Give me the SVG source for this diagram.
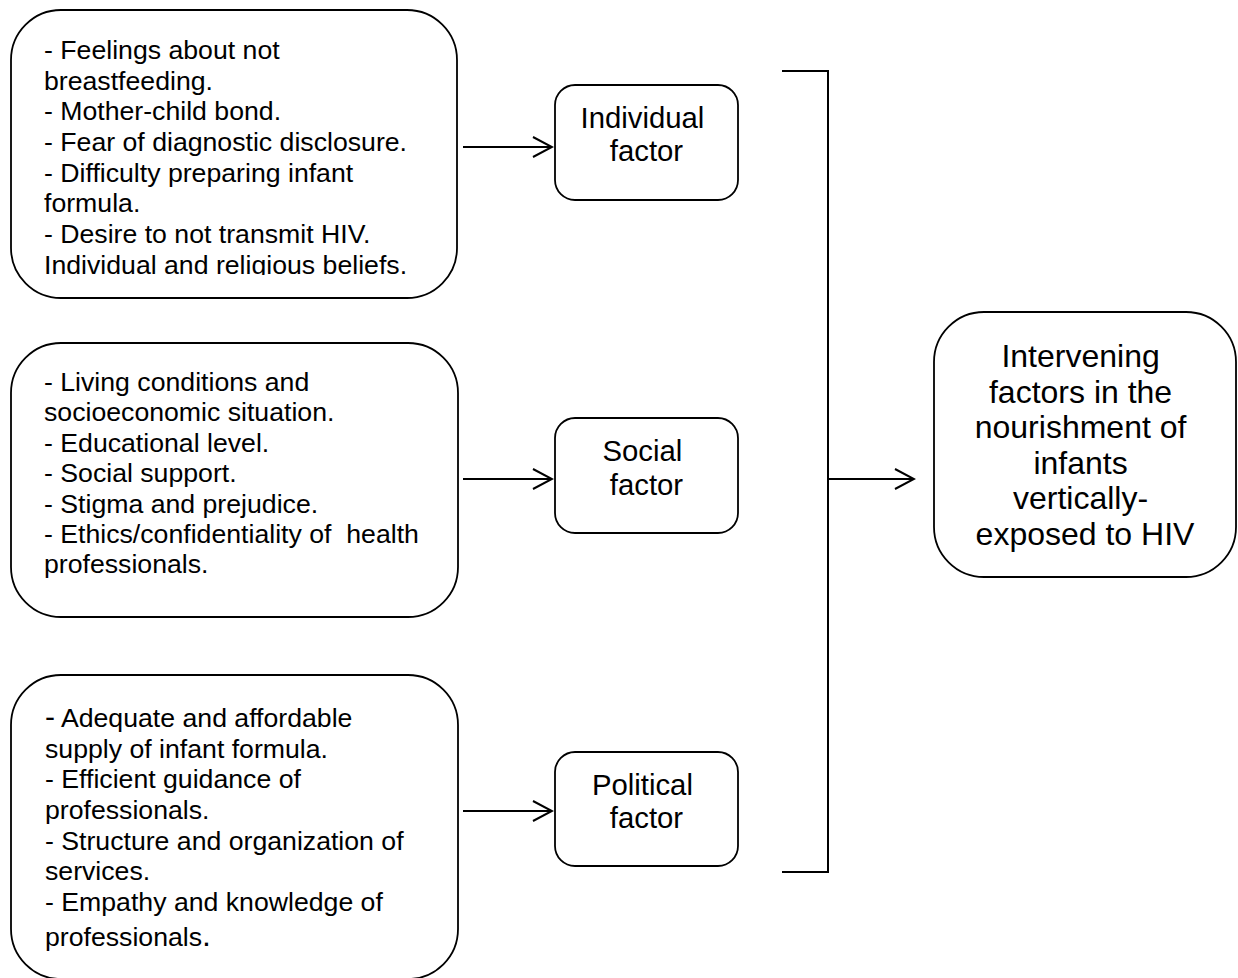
<svg xmlns="http://www.w3.org/2000/svg" width="1238" height="978" viewBox="0 0 1238 978">
  <style>
    .box { fill: #ffffff; stroke: #000000; stroke-width: 1.8; }
    .line { fill: none; stroke: #000000; stroke-width: 2; }
    .list { font-family: "Liberation Sans", Arial, sans-serif; font-size: 26.67px; fill: #000000; }
    .factor { font-family: "Liberation Sans", Arial, sans-serif; font-size: 29.3px; fill: #000000; text-anchor: middle; }
    .main { font-family: "Liberation Sans", Arial, sans-serif; font-size: 32px; fill: #000000; text-anchor: middle; }
  </style>
  <defs>
    <marker id="arrow" markerUnits="userSpaceOnUse" markerWidth="24" markerHeight="26" viewBox="-22 -13 24 26" refX="0" refY="0" orient="auto">
      <path d="M-19,-10 L0,0 L-19,10" fill="none" stroke="#000000" stroke-width="2"/>
    </marker>
    <clipPath id="clip1">
      <rect x="0" y="0" width="470" height="275"/>
    </clipPath>
  </defs>

  <rect width="1238" height="978" fill="#ffffff"/>

  <g id="connectors">
    <line class="line" x1="463" y1="147" x2="552" y2="147" marker-end="url(#arrow)"/>
    <line class="line" x1="463" y1="479" x2="552" y2="479" marker-end="url(#arrow)"/>
    <line class="line" x1="463" y1="811" x2="552" y2="811" marker-end="url(#arrow)"/>
    <polyline class="line" points="782,71 828,71 828,872 782,872"/>
    <line class="line" x1="828" y1="479" x2="914" y2="479" marker-end="url(#arrow)"/>
  </g>

  <g id="individual-details">
    <rect class="box" x="11" y="10" width="446" height="288" rx="50" ry="50"/>
    <g clip-path="url(#clip1)">
      <text class="list">
        <tspan x="44" y="59">- Feelings about not</tspan>
        <tspan x="44" y="89.7">breastfeeding.</tspan>
        <tspan x="44" y="120.3">- Mother-child bond.</tspan>
        <tspan x="44" y="151">- Fear of diagnostic disclosure.</tspan>
        <tspan x="44" y="181.7">- Difficulty preparing infant</tspan>
        <tspan x="44" y="212.3">formula.</tspan>
        <tspan x="44" y="243">- Desire to not transmit HIV.</tspan>
        <tspan x="44" y="273.7">Individual and religious beliefs.</tspan>
      </text>
    </g>
  </g>

  <g id="social-details">
    <rect class="box" x="11" y="343" width="447" height="274" rx="50" ry="50"/>
    <text class="list">
      <tspan x="44" y="391">- Living conditions and</tspan>
      <tspan x="44" y="421.4">socioeconomic situation.</tspan>
      <tspan x="44" y="451.8">- Educational level.</tspan>
      <tspan x="44" y="482.2">- Social support.</tspan>
      <tspan x="44" y="512.6">- Stigma and prejudice.</tspan>
      <tspan x="44" y="543">- Ethics/confidentiality of&#160; health</tspan>
      <tspan x="44" y="573.4">professionals.</tspan>
    </text>
  </g>

  <g id="political-details">
    <rect class="box" x="11" y="675" width="447" height="304" rx="50" ry="50"/>
    <text class="list">
      <tspan x="45" y="727"><tspan font-size="30px">-</tspan> Adequate and affordable</tspan>
      <tspan x="45" y="757.7">supply of infant formula.</tspan>
      <tspan x="45" y="788.3">- Efficient guidance of</tspan>
      <tspan x="45" y="819">professionals.</tspan>
      <tspan x="45" y="849.7">- Structure and organization of</tspan>
      <tspan x="45" y="880.3">services.</tspan>
      <tspan x="45" y="911">- Empathy and knowledge of</tspan>
      <tspan x="45" y="946">professionals<tspan font-size="32px">.</tspan></tspan>
    </text>
  </g>

  <g id="individual-factor">
    <rect class="box" x="555" y="85" width="183" height="115" rx="20" ry="20"/>
    <text class="factor">
      <tspan x="646.5" y="128">Individual</tspan>
      <tspan x="646.5" y="161">factor</tspan>
    </text>
  </g>

  <g id="social-factor">
    <rect class="box" x="555" y="418" width="183" height="115" rx="20" ry="20"/>
    <text class="factor">
      <tspan x="646.5" y="461">Social</tspan>
      <tspan x="646.5" y="495">factor</tspan>
    </text>
  </g>

  <g id="political-factor">
    <rect class="box" x="555" y="752" width="183" height="114" rx="20" ry="20"/>
    <text class="factor">
      <tspan x="646.5" y="795">Political</tspan>
      <tspan x="646.5" y="828">factor</tspan>
    </text>
  </g>

  <g id="outcome">
    <rect class="box" x="934" y="312" width="302" height="265" rx="50" ry="50"/>
    <text class="main">
      <tspan x="1085" y="367">Intervening</tspan>
      <tspan x="1085" y="402.6">factors in the</tspan>
      <tspan x="1085" y="438.2">nourishment of</tspan>
      <tspan x="1085" y="473.8">infants</tspan>
      <tspan x="1085" y="509.4">vertically-</tspan>
      <tspan x="1085" y="545">exposed to HIV</tspan>
    </text>
  </g>
</svg>
